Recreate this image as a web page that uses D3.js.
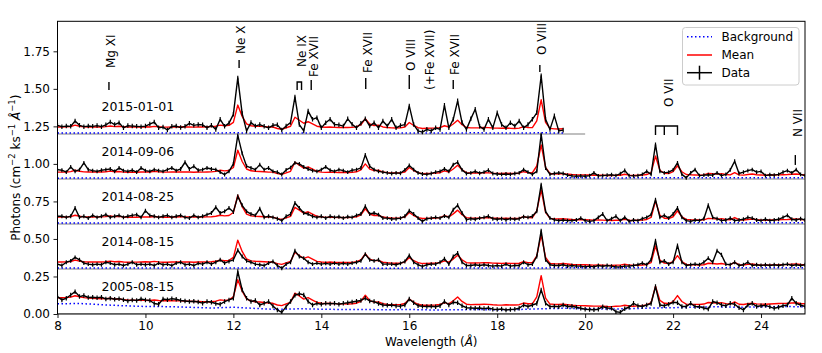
<!DOCTYPE html>
<html><head><meta charset="utf-8">
<script src="https://cdn.jsdelivr.net/npm/d3@7"></script>
<style>
body{margin:0;background:#fff}
text{font-family:"DejaVu Sans",sans-serif;fill:#000}
</style>
</head><body>
<svg id="c" width="822" height="353"></svg>
<script>
// ---------------- DATA ----------------
const waveStart = 8.0, waveStep = 0.1;       // data grid (Å)
const bgStart = 8.0, bgStep = 0.5;            // background grid (Å)
const obsDates = ["2005-08-15", "2014-08-15", "2014-08-25", "2014-09-06", "2015-01-01"];
const offsets = [0, 0.3, 0.6, 0.9, 1.2];
const zeroLineEnd = [25, 25, 25, 25, 20];
const errHalf = [0.015, 0.013, 0.013, 0.013, 0.015];
const xTickValues = [8, 10, 12, 14, 16, 18, 20, 22, 24];
const yTickValues = [0, 0.25, 0.5, 0.75, 1.0, 1.25, 1.5, 1.75];

const data2005 = [
0.116,0.094,0.105,0.127,0.149,0.116,0.123,0.110,0.112,0.108,
0.112,0.100,0.105,0.098,0.102,0.095,0.087,0.094,0.090,0.100,
0.094,0.090,0.070,0.065,0.100,0.095,0.102,0.098,0.090,0.087,
0.083,0.085,0.080,0.072,0.083,0.078,0.070,0.065,0.083,0.094,
0.105,0.283,0.160,0.105,0.083,0.090,0.060,0.071,0.083,0.054,
0.027,0.011,0.049,0.083,0.125,0.135,0.127,0.083,0.060,0.071,
0.065,0.071,0.068,0.071,0.065,0.071,0.075,0.080,0.085,0.090,
0.105,0.087,0.083,0.070,0.060,0.058,0.060,0.054,0.052,0.060,
0.100,0.075,0.055,0.052,0.050,0.052,0.048,0.055,0.083,0.060,
0.078,0.075,0.055,0.042,0.040,0.038,0.040,0.036,0.040,0.032,
0.030,0.033,0.027,0.030,0.032,0.038,0.060,0.050,0.060,0.070,
0.160,0.071,0.049,0.052,0.048,0.060,0.050,0.052,0.045,0.038,
0.032,0.030,0.028,0.032,0.049,0.040,0.038,0.015,0.011,0.035,
0.045,0.071,0.055,0.050,0.060,0.070,0.183,0.060,0.055,0.065,
0.078,0.075,0.050,0.050,0.071,0.050,0.048,0.040,0.033,0.083,
0.075,0.060,0.055,0.071,0.065,0.042,0.027,0.060,0.071,0.050,
0.055,0.058,0.048,0.038,0.045,0.055,0.060,0.105,0.071,0.060,
0.050];

const data20140815 = [
0.032,0.023,0.045,0.054,0.077,0.061,0.039,0.032,0.028,0.032,
0.028,0.045,0.039,0.028,0.032,0.023,0.032,0.045,0.028,0.032,
0.028,0.032,0.023,0.039,0.028,0.032,0.023,0.039,0.045,0.028,
0.032,0.023,0.037,0.032,0.045,0.032,0.045,0.061,0.039,0.050,
0.061,0.125,0.083,0.054,0.045,0.032,0.028,0.023,0.039,0.050,
0.023,0.005,0.032,0.045,0.121,0.083,0.072,0.045,0.032,0.039,
0.032,0.037,0.032,0.039,0.032,0.037,0.032,0.039,0.045,0.054,
0.099,0.061,0.054,0.061,0.032,0.032,0.032,0.028,0.037,0.050,
0.090,0.045,0.028,0.017,0.028,0.032,0.032,0.045,0.068,0.032,
0.083,0.106,0.045,0.023,0.023,0.028,0.023,0.028,0.023,0.019,
0.023,0.019,0.032,0.019,0.023,0.023,0.045,0.028,0.032,0.083,
0.255,0.061,0.028,0.023,0.023,0.028,0.019,0.023,0.019,0.019,
0.014,0.019,0.014,0.023,0.017,0.023,0.019,0.014,0.014,0.019,
0.019,0.023,0.028,0.039,0.028,0.061,0.188,0.045,0.054,0.032,
0.045,0.157,0.045,0.023,0.028,0.032,0.028,0.045,0.072,0.045,
0.121,0.095,0.032,0.028,0.045,0.023,0.028,0.045,0.023,0.028,
0.023,0.028,0.023,0.028,0.023,0.028,0.032,0.023,0.028,0.023,
0.028];

const data20140825 = [
0.051,0.051,0.044,0.051,0.106,0.044,0.051,0.039,0.057,0.044,
0.051,0.062,0.044,0.051,0.057,0.044,0.051,0.057,0.062,0.044,
0.088,0.057,0.051,0.044,0.051,0.057,0.044,0.051,0.057,0.044,
0.039,0.057,0.044,0.051,0.062,0.073,0.111,0.073,0.084,0.106,
0.080,0.184,0.124,0.084,0.066,0.057,0.102,0.044,0.051,0.044,
0.035,0.022,0.051,0.066,0.140,0.106,0.073,0.066,0.051,0.044,
0.051,0.039,0.051,0.044,0.048,0.039,0.048,0.044,0.057,0.066,
0.118,0.066,0.073,0.062,0.039,0.039,0.033,0.035,0.039,0.051,
0.088,0.066,0.039,0.017,0.035,0.039,0.044,0.039,0.053,0.044,
0.095,0.124,0.073,0.028,0.035,0.031,0.039,0.044,0.051,0.035,
0.031,0.035,0.028,0.035,0.031,0.035,0.048,0.044,0.051,0.084,
0.262,0.084,0.039,0.028,0.022,0.026,0.022,0.022,0.026,0.039,
0.022,0.017,0.022,0.044,0.066,0.022,0.035,0.051,0.022,0.044,
0.017,0.026,0.022,0.035,0.044,0.062,0.162,0.044,0.057,0.039,
0.066,0.106,0.044,0.022,0.017,0.026,0.022,0.035,0.124,0.044,
0.035,0.022,0.026,0.039,0.022,0.026,0.031,0.044,0.039,0.026,
0.022,0.031,0.022,0.026,0.031,0.044,0.057,0.031,0.026,0.035,
0.026];

const data20140906 = [
0.062,0.058,0.045,0.080,0.050,0.062,0.107,0.062,0.055,0.050,
0.058,0.062,0.066,0.050,0.073,0.055,0.050,0.058,0.045,0.073,
0.055,0.050,0.062,0.055,0.050,0.062,0.073,0.055,0.066,0.111,
0.066,0.084,0.058,0.062,0.073,0.066,0.062,0.045,0.029,0.050,
0.100,0.290,0.170,0.085,0.073,0.062,0.095,0.062,0.073,0.050,
0.045,0.029,0.060,0.075,0.107,0.100,0.080,0.066,0.055,0.050,
0.062,0.080,0.058,0.050,0.062,0.055,0.045,0.058,0.062,0.073,
0.160,0.084,0.062,0.050,0.045,0.040,0.036,0.040,0.038,0.060,
0.090,0.062,0.040,0.033,0.030,0.036,0.045,0.050,0.067,0.050,
0.095,0.111,0.060,0.036,0.040,0.050,0.038,0.045,0.058,0.036,
0.033,0.030,0.033,0.030,0.036,0.040,0.062,0.045,0.030,0.050,
0.297,0.073,0.030,0.036,0.040,0.036,0.025,0.020,0.018,0.020,
0.018,0.022,0.040,0.020,0.022,0.025,0.028,0.022,0.035,0.056,
0.022,0.020,0.022,0.030,0.050,0.030,0.230,0.050,0.040,0.045,
0.060,0.107,0.030,0.007,0.040,0.062,0.022,0.025,0.028,0.025,
0.040,0.022,0.030,0.060,0.118,0.036,0.045,0.055,0.062,0.045,
0.050,0.022,0.028,0.025,0.030,0.045,0.055,0.040,0.062,0.030,
0.022];

const data20150101 = [
0.057,0.048,0.052,0.050,0.086,0.057,0.048,0.052,0.050,0.055,
0.048,0.060,0.079,0.062,0.074,0.040,0.055,0.052,0.050,0.048,
0.052,0.065,0.079,0.040,0.045,0.026,0.050,0.052,0.042,0.050,
0.070,0.057,0.062,0.060,0.040,0.057,0.030,0.097,0.050,0.072,
0.130,0.373,0.135,0.020,0.075,0.052,0.062,0.050,0.040,0.057,
0.060,0.026,0.052,0.075,0.246,0.062,0.020,0.152,0.097,0.108,
0.040,0.074,0.097,0.062,0.060,0.052,0.100,0.064,0.040,0.070,
0.100,0.052,0.074,0.040,0.086,0.052,0.097,0.040,0.055,0.062,
0.186,0.062,0.020,0.012,0.030,0.020,0.040,0.030,0.190,0.040,
0.097,0.220,0.075,0.030,0.100,0.164,0.050,0.030,0.097,0.040,
0.140,0.062,0.040,0.074,0.052,0.086,0.040,0.062,0.097,0.140,
0.387,0.097,0.030,0.120,0.020,0.025];

// mean source spectrum (above background), same 0.1 Å grid
const meanSource = [
0.040,0.040,0.041,0.043,0.052,0.045,0.041,0.040,0.040,0.040,
0.040,0.042,0.046,0.042,0.044,0.040,0.039,0.039,0.039,0.040,
0.041,0.040,0.044,0.041,0.039,0.039,0.040,0.040,0.041,0.040,
0.040,0.039,0.040,0.040,0.041,0.042,0.045,0.052,0.048,0.050,
0.070,0.185,0.110,0.060,0.048,0.045,0.044,0.042,0.040,0.040,
0.030,0.025,0.035,0.045,0.105,0.085,0.065,0.075,0.060,0.045,
0.040,0.038,0.040,0.038,0.037,0.038,0.037,0.038,0.042,0.055,
0.095,0.060,0.050,0.052,0.040,0.036,0.034,0.033,0.034,0.040,
0.070,0.050,0.036,0.030,0.031,0.032,0.033,0.036,0.048,0.040,
0.060,0.085,0.055,0.036,0.033,0.033,0.034,0.036,0.035,0.033,
0.032,0.031,0.033,0.031,0.030,0.032,0.042,0.036,0.035,0.080,
0.220,0.070,0.030,0.027,0.026,0.028,0.025,0.022,0.020,0.020,
0.020,0.019,0.018,0.019,0.018,0.017,0.016,0.018,0.018,0.024,
0.018,0.016,0.017,0.018,0.022,0.035,0.145,0.050,0.030,0.028,
0.040,0.080,0.040,0.022,0.020,0.019,0.018,0.020,0.030,0.028,
0.025,0.028,0.022,0.020,0.035,0.020,0.018,0.022,0.025,0.020,
0.018,0.017,0.018,0.019,0.020,0.021,0.022,0.024,0.026,0.022,
0.020];

// backgrounds on a 0.5 Å grid
const bg2005 = [0.068,0.070,0.062,0.055,0.050,0.049,0.045,0.040,0.045,0.037,0.030,0.035,0.032,0.030,0.030,0.028,0.030,0.027,0.028,0.030,0.028,0.030,0.035,0.038,0.035,0.033,0.035,0.040,0.042,0.045,0.048,0.045,0.048,0.050,0.048];
const bg20140815 = [0.006,0.007,0.006,0.006,0.007,0.006,0.006,0.006,0.007,0.006,0.006,0.005,0.006,0.006,0.006,0.005,0.006,0.006,0.006,0.007,0.006,0.006,0.007,0.008,0.008,0.007,0.008,0.008,0.009,0.008,0.008,0.009,0.008,0.008,0.008];
const bg20140825 = [0.006,0.006,0.007,0.006,0.006,0.006,0.007,0.006,0.006,0.006,0.005,0.006,0.006,0.005,0.006,0.006,0.006,0.006,0.007,0.006,0.006,0.006,0.007,0.007,0.008,0.007,0.007,0.008,0.008,0.008,0.007,0.008,0.008,0.008,0.007];
const bg20140906 = [0.005,0.006,0.006,0.005,0.006,0.006,0.006,0.005,0.006,0.006,0.005,0.006,0.005,0.006,0.005,0.006,0.006,0.005,0.006,0.006,0.005,0.006,0.006,0.007,0.007,0.006,0.007,0.007,0.008,0.007,0.007,0.007,0.008,0.007,0.007];
const bg20150101 = [0.006,0.006,0.006,0.007,0.006,0.006,0.006,0.006,0.007,0.006,0.006,0.006,0.006,0.005,0.006,0.006,0.006,0.006,0.006,0.007,0.006,0.006,0.007,0.006];

// line identifications
const annotations = [
  {text: ["Mg XI"],   ticks: [9.17],  tickTop: 1.546, tickBot: 1.492, textBase: 1.639, textWave: 9.17},
  {text: ["Ne X"],    ticks: [12.13], tickTop: 1.692, tickBot: 1.639, textBase: 1.732, textWave: 12.13},
  {text: ["Ne IX"],   bracket: [13.45, 13.55], tickTop: 1.546, tickBot: 1.492, textBase: 1.646, textWave: 13.5},
  {text: ["Fe XVII"], ticks: [13.77], tickTop: 1.559, tickBot: 1.492, textBase: 1.579, textWave: 13.79},
  {text: ["Fe XVII"], ticks: [15.01], tickTop: 1.572, tickBot: 1.499, textBase: 1.606, textWave: 15.01},
  {text: ["O VIII", "(+Fe XVII)"], ticks: [16.0], tickTop: 1.592, tickBot: 1.499, textBase: 1.619, textWave: 16.0, text2Base: 1.492},
  {text: ["Fe XVII"], ticks: [17.0],  tickTop: 1.559, tickBot: 1.499, textBase: 1.592, textWave: 17.0},
  {text: ["O VIII"],  ticks: [18.97], tickTop: 1.659, tickBot: 1.612, textBase: 1.726, textWave: 18.97},
  {text: ["O VII"],   bracket: [21.6, 21.8, 22.1], tickTop: 1.252, tickBot: 1.193, textBase: 1.379, textWave: 21.86},
  {text: ["N VII"],   ticks: [24.78], tickTop: 1.059, tickBot: 0.993, textBase: 1.179, textWave: 24.78}
];

const spectra = [
  {date: obsDates[0], off: offsets[0], data: data2005,     bg: bg2005,     err: errHalf[0], greyEnd: zeroLineEnd[0]},
  {date: obsDates[1], off: offsets[1], data: data20140815, bg: bg20140815, err: errHalf[1], greyEnd: zeroLineEnd[1]},
  {date: obsDates[2], off: offsets[2], data: data20140825, bg: bg20140825, err: errHalf[2], greyEnd: zeroLineEnd[2]},
  {date: obsDates[3], off: offsets[3], data: data20140906, bg: bg20140906, err: errHalf[3], greyEnd: zeroLineEnd[3]},
  {date: obsDates[4], off: offsets[4], data: data20150101, bg: bg20150101, err: errHalf[4], greyEnd: zeroLineEnd[4]}
];

// ---------------- DRAW ----------------
const L = 57.5, R = 805, T = 21.3, B = 314;
const x = d3.scaleLinear().domain([8, 25]).range([L, R]);
const y = d3.scaleLinear().domain([0, 1.95]).range([B, T]);
const svg = d3.select("#c");

svg.append("defs").append("clipPath").attr("id", "clip")
  .append("rect").attr("x", L).attr("y", T).attr("width", R - L).attr("height", B - T);
const plot = svg.append("g").attr("clip-path", "url(#clip)");

// zero lines
spectra.forEach(s => {
  plot.append("line")
    .attr("x1", x(8)).attr("x2", x(s.greyEnd))
    .attr("y1", y(s.off)).attr("y2", y(s.off))
    .attr("stroke", "#bfbfbf").attr("stroke-width", 2);
});

const line = d3.line().x(d => x(d[0])).y(d => y(d[1]));

spectra.forEach(s => {
  const waves = d3.range(s.data.length).map(i => +(waveStart + i * waveStep).toFixed(2));
  const bgW = d3.range(s.bg.length).map(j => bgStart + j * bgStep);
  const bgAt = d3.scaleLinear().domain(bgW).range(s.bg);

  // background
  plot.append("path")
    .attr("d", line(bgW.map((w, j) => [w, s.off + s.bg[j]])))
    .attr("fill", "none").attr("stroke", "#0000ff").attr("stroke-width", 1.5)
    .attr("stroke-dasharray", "1.5,2.5");

  // mean model (mean source + this observation's background)
  plot.append("path")
    .attr("d", line(waves.map((w, i) => [w, s.off + meanSource[i] + bgAt(w)])))
    .attr("fill", "none").attr("stroke", "#ff0000").attr("stroke-width", 1.4)
    .attr("stroke-linejoin", "round");

  // data
  const pts = waves.map((w, i) => [w, s.off + s.data[i]]);
  plot.append("path")
    .attr("d", line(pts))
    .attr("fill", "none").attr("stroke", "#000").attr("stroke-width", 1.4)
    .attr("stroke-linejoin", "round");
  plot.append("path")
    .attr("d", pts.map(p => `M${x(p[0])},${y(p[1] - s.err)}V${y(p[1] + s.err)}`).join(""))
    .attr("stroke", "#000").attr("stroke-width", 1.2);

  // date label
  svg.append("text")
    .attr("x", x(9.0)).attr("y", y(s.off + 0.18))
    .attr("dominant-baseline", "central")
    .attr("font-size", "12.5px")
    .text(s.date);
});

// annotations
annotations.forEach(a => {
  const col = "#000";
  if (a.ticks) {
    a.ticks.forEach(w => {
      svg.append("line").attr("x1", x(w)).attr("x2", x(w))
        .attr("y1", y(a.tickTop)).attr("y2", y(a.tickBot))
        .attr("stroke", col).attr("stroke-width", 1.4);
    });
  }
  if (a.bracket) {
    const xs = a.bracket.map(w => x(w));
    let d = `M${xs[0]},${y(a.tickBot)}V${y(a.tickTop)}H${xs[xs.length - 1]}V${y(a.tickBot)}`;
    for (let k = 1; k < xs.length - 1; k++) d += `M${xs[k]},${y(a.tickTop)}V${y(a.tickBot)}`;
    svg.append("path").attr("d", d).attr("fill", "none")
      .attr("stroke", col).attr("stroke-width", 1.4);
  }
  svg.append("text")
    .attr("transform", `translate(${x(a.textWave) + 2},${y(a.textBase)}) rotate(-90)`)
    .attr("dy", "0.35em").attr("font-size", "12px")
    .text(a.text[0]);
  if (a.text.length > 1) {
    svg.append("text")
      .attr("transform", `translate(${x(a.textWave) + 21},${y(a.text2Base)}) rotate(-90)`)
      .attr("dy", "0.35em").attr("font-size", "12px")
      .text(a.text[1]);
  }
});

// axes
const xAxis = d3.axisBottom(x).tickValues(xTickValues).tickFormat(d3.format("d"))
  .tickSize(4).tickPadding(3.5);
const gx = svg.append("g").attr("transform", `translate(0,${B})`).call(xAxis);
const yAxis = d3.axisLeft(y).tickValues(yTickValues).tickFormat(d3.format(".2f"))
  .tickSize(4).tickPadding(3.5);
const gy = svg.append("g").attr("transform", `translate(${L},0)`).call(yAxis);
[gx, gy].forEach(g => {
  g.select(".domain").remove();
  g.selectAll("text").attr("font-size", "12px").attr("font-family", "DejaVu Sans, sans-serif").attr("fill", "#000");
  g.selectAll("line").attr("stroke", "#000").attr("stroke-width", 0.9);
});

// frame
svg.append("rect").attr("x", L).attr("y", T).attr("width", R - L).attr("height", B - T)
  .attr("fill", "none").attr("stroke", "#000").attr("stroke-width", 1);

// axis labels
const xl = svg.append("text").attr("x", (L + R) / 2).attr("y", 342)
  .attr("text-anchor", "middle").attr("dominant-baseline", "central").attr("font-size", "12px");
xl.append("tspan").text("Wavelength (");
xl.append("tspan").attr("font-style", "italic").text("Å");
xl.append("tspan").text(")");

const yl = svg.append("text")
  .attr("transform", `translate(19.5,${(T + B) / 2}) rotate(-90)`)
  .attr("text-anchor", "middle").attr("font-size", "12px");
yl.append("tspan").text("Photons (cm");
yl.append("tspan").attr("font-size", "8.5px").attr("dy", -5).text("−2");
yl.append("tspan").attr("dy", 5).text(" ks");
yl.append("tspan").attr("font-size", "8.5px").attr("dy", -5).text("−1");
yl.append("tspan").attr("dy", 5).text(" ");
yl.append("tspan").attr("font-style", "italic").text("Å");
yl.append("tspan").attr("font-size", "8.5px").attr("dy", -5).text("−1");
yl.append("tspan").attr("dy", 5).text(")");

// legend
const lg = svg.append("g");
lg.append("rect").attr("x", 682.5).attr("y", 27.5).attr("width", 116.5).attr("height", 57.5)
  .attr("rx", 3).attr("fill", "#fff").attr("fill-opacity", 0.8).attr("stroke", "#cccccc");
const legendItems = ["Background", "Mean", "Data"];
const legendY = [36.7, 55, 72.7];
lg.append("line").attr("x1", 687).attr("x2", 712).attr("y1", legendY[0]).attr("y2", legendY[0])
  .attr("stroke", "#0000ff").attr("stroke-width", 1.5).attr("stroke-dasharray", "1.5,2.5");
lg.append("line").attr("x1", 687).attr("x2", 712).attr("y1", legendY[1]).attr("y2", legendY[1])
  .attr("stroke", "#ff0000").attr("stroke-width", 1.5);
lg.append("line").attr("x1", 687).attr("x2", 712).attr("y1", legendY[2]).attr("y2", legendY[2])
  .attr("stroke", "#000").attr("stroke-width", 1.5);
lg.append("line").attr("x1", 699.5).attr("x2", 699.5).attr("y1", legendY[2] - 7).attr("y2", legendY[2] + 7)
  .attr("stroke", "#000").attr("stroke-width", 1.5);
legendItems.forEach((t, i) => {
  lg.append("text").attr("x", 721.5).attr("y", legendY[i]).attr("dominant-baseline", "central")
    .attr("font-size", "12px").text(t);
});
</script>
</body></html>
